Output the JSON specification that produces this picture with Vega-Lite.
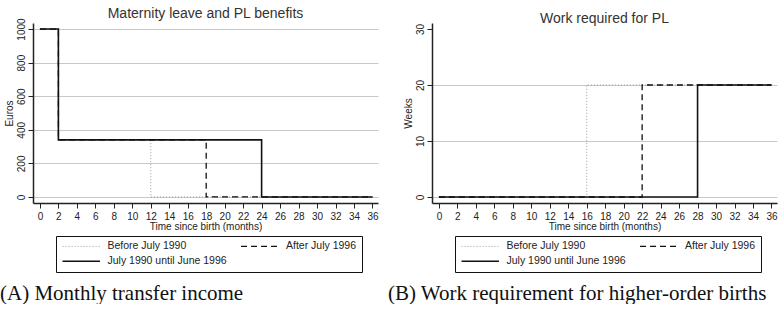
{
  "$schema": "https://vega.github.io/schema/vega-lite/v6.json",
  "padding": {"left": 0, "top": 6, "right": 0, "bottom": 0},
  "background": "white",
  "config": {
    "font": "Liberation Sans",
    "view": {"stroke": null},
    "axis": {"labelFont": "Liberation Sans", "titleFont": "Liberation Sans", "labelFontSize": 10, "titleFontSize": 10, "titleFontWeight": "normal", "labelColor": "#222", "titleColor": "#222", "domainColor": "#222", "domainWidth": 1.5, "tickColor": "#222", "tickWidth": 1, "tickSize": 5, "gridColor": "#c8c8c8", "gridWidth": 1.2},
    "legend": {"labelFont": "Liberation Sans", "labelFontSize": 10.5, "labelColor": "#222"},
    "concat": {"spacing": 8},
    "title": {"font": "Liberation Sans"}
  },
  "hconcat": [
    {
      "title": {"text": "(A) Monthly transfer income", "orient": "bottom", "anchor": "start", "font": "Liberation Serif", "fontSize": 21, "fontWeight": "normal", "color": "#111", "offset": 10, "dx": -4},
      "vconcat": [
        {
          "width": 345,
          "height": 180,
          "title": {"text": "Maternity leave and PL benefits", "fontSize": 14, "fontWeight": "normal", "color": "#333", "frame": "group", "anchor": "middle", "offset": -3},
          "data": {"values": [
            {"t": 0, "v": 1000, "s": "Before July 1990"},
            {"t": 2, "v": 340, "s": "Before July 1990"},
            {"t": 12, "v": 0, "s": "Before July 1990"},
            {"t": 36, "v": 0, "s": "Before July 1990"},
            {"t": 0, "v": 1000, "s": "July 1990 until June 1996"},
            {"t": 2, "v": 340, "s": "July 1990 until June 1996"},
            {"t": 24, "v": 0, "s": "July 1990 until June 1996"},
            {"t": 36, "v": 0, "s": "July 1990 until June 1996"},
            {"t": 0, "v": 1000, "s": "After July 1996"},
            {"t": 2, "v": 340, "s": "After July 1996"},
            {"t": 18, "v": 0, "s": "After July 1996"},
            {"t": 36, "v": 0, "s": "After July 1996"}
          ]},
          "mark": {"type": "line", "interpolate": "step-after"},
          "encoding": {
            "x": {"field": "t", "type": "quantitative", "scale": {"domain": [-0.75, 36.6], "nice": false, "zero": false}, "axis": {"values": [0,2,4,6,8,10,12,14,16,18,20,22,24,26,28,30,32,34,36], "title": "Time since birth (months)", "titlePadding": 0, "labelPadding": 3, "grid": false}},
            "y": {"field": "v", "type": "quantitative", "scale": {"domain": [-36, 1036], "nice": false, "zero": false}, "axis": {"values": [0,200,400,600,800,1000], "format": "d", "title": "Euros", "labelAngle": -90, "labelAlign": "center", "labelBaseline": "bottom", "labelPadding": 2, "titlePadding": 2, "grid": true}},
            "color": {"field": "s", "type": "nominal", "scale": {"domain": ["Before July 1990", "After July 1996", "July 1990 until June 1996"], "range": ["#9a9a9a", "#111111", "#111111"]}, "legend": {"title": null, "orient": "none", "direction": "horizontal", "legendX": 23, "legendY": 213, "columns": 2, "columnPadding": 10.5, "rowPadding": 4, "symbolType": "M-5,0H5", "symbolSize": 56, "symbolOffset": 15, "symbolStrokeWidth": 1.5, "labelOffset": 21, "strokeColor": "#111", "padding": 5, "fillColor": "white"}},
            "strokeDash": {"field": "s", "type": "nominal", "scale": {"domain": ["Before July 1990", "After July 1996", "July 1990 until June 1996"], "range": [[1, 2], [6, 4], [1, 0]]}, "legend": {"title": null, "orient": "none", "direction": "horizontal", "legendX": 23, "legendY": 213, "columns": 2, "columnPadding": 10.5, "rowPadding": 4, "symbolType": "M-5,0H5", "symbolSize": 56, "symbolOffset": 15, "symbolStrokeWidth": 1.5, "labelOffset": 21, "strokeColor": "#111", "padding": 5, "fillColor": "white"}},
            "strokeWidth": {"field": "s", "type": "nominal", "scale": {"domain": ["Before July 1990", "After July 1996", "July 1990 until June 1996"], "range": [1, 1.6, 1.6]}, "legend": {"title": null, "orient": "none", "direction": "horizontal", "legendX": 23, "legendY": 213, "columns": 2, "columnPadding": 10.5, "rowPadding": 4, "symbolType": "M-5,0H5", "symbolSize": 56, "symbolOffset": 15, "labelOffset": 21, "strokeColor": "#111", "padding": 5, "fillColor": "white"}}
          }
        }
      ]
    },
    {
      "title": {"text": "(B) Work requirement for higher-order births", "orient": "bottom", "anchor": "start", "font": "Liberation Serif", "fontSize": 21, "fontWeight": "normal", "color": "#111", "offset": 10, "dx": -15},
      "vconcat": [
        {
          "width": 345,
          "height": 180,
          "title": {"text": "Work required for PL", "fontSize": 14, "fontWeight": "normal", "color": "#333", "frame": "group", "anchor": "middle", "offset": -3},
          "data": {"values": [
            {"t": 0, "v": 0, "s": "Before July 1990"},
            {"t": 16, "v": 20, "s": "Before July 1990"},
            {"t": 36, "v": 20, "s": "Before July 1990"},
            {"t": 0, "v": 0, "s": "July 1990 until June 1996"},
            {"t": 28, "v": 20, "s": "July 1990 until June 1996"},
            {"t": 36, "v": 20, "s": "July 1990 until June 1996"},
            {"t": 0, "v": 0, "s": "After July 1996"},
            {"t": 22, "v": 20, "s": "After July 1996"},
            {"t": 36, "v": 20, "s": "After July 1996"}
          ]},
          "mark": {"type": "line", "interpolate": "step-after"},
          "encoding": {
            "x": {"field": "t", "type": "quantitative", "scale": {"domain": [-0.75, 36.6], "nice": false, "zero": false}, "axis": {"values": [0,2,4,6,8,10,12,14,16,18,20,22,24,26,28,30,32,34,36], "title": "Time since birth (months)", "titlePadding": 0, "labelPadding": 3, "grid": false}},
            "y": {"field": "v", "type": "quantitative", "scale": {"domain": [-1.07, 31.07], "nice": false, "zero": false}, "axis": {"values": [0,10,20,30], "format": "d", "title": "Weeks", "labelAngle": -90, "labelAlign": "center", "labelBaseline": "bottom", "labelPadding": 2, "titlePadding": 2, "grid": true, "gridColor": {"condition": {"test": "datum.value == 30", "value": "transparent"}, "value": "#c8c8c8"}}},
            "color": {"field": "s", "type": "nominal", "scale": {"domain": ["Before July 1990", "After July 1996", "July 1990 until June 1996"], "range": ["#9a9a9a", "#111111", "#111111"]}, "legend": {"title": null, "orient": "none", "direction": "horizontal", "legendX": 23, "legendY": 213, "columns": 2, "columnPadding": 10.5, "rowPadding": 4, "symbolType": "M-5,0H5", "symbolSize": 56, "symbolOffset": 15, "symbolStrokeWidth": 1.5, "labelOffset": 21, "strokeColor": "#111", "padding": 5, "fillColor": "white"}},
            "strokeDash": {"field": "s", "type": "nominal", "scale": {"domain": ["Before July 1990", "After July 1996", "July 1990 until June 1996"], "range": [[1, 2], [6, 4], [1, 0]]}, "legend": {"title": null, "orient": "none", "direction": "horizontal", "legendX": 23, "legendY": 213, "columns": 2, "columnPadding": 10.5, "rowPadding": 4, "symbolType": "M-5,0H5", "symbolSize": 56, "symbolOffset": 15, "symbolStrokeWidth": 1.5, "labelOffset": 21, "strokeColor": "#111", "padding": 5, "fillColor": "white"}},
            "strokeWidth": {"field": "s", "type": "nominal", "scale": {"domain": ["Before July 1990", "After July 1996", "July 1990 until June 1996"], "range": [1, 1.6, 1.6]}, "legend": {"title": null, "orient": "none", "direction": "horizontal", "legendX": 23, "legendY": 213, "columns": 2, "columnPadding": 10.5, "rowPadding": 4, "symbolType": "M-5,0H5", "symbolSize": 56, "symbolOffset": 15, "labelOffset": 21, "strokeColor": "#111", "padding": 5, "fillColor": "white"}}
          }
        }
      ]
    }
  ],
  "resolve": {"scale": {"color": "independent", "strokeDash": "independent", "strokeWidth": "independent"}, "legend": {"color": "independent", "strokeDash": "independent", "strokeWidth": "independent"}}
}
